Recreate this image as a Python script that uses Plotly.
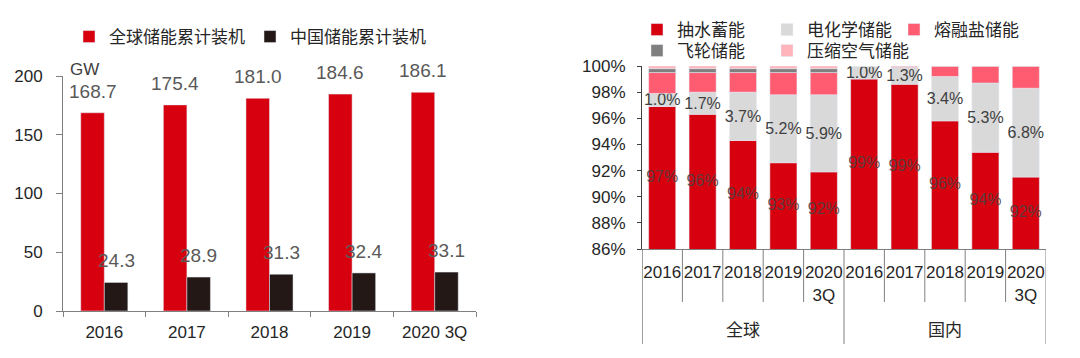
import plotly.graph_objects as go

# ---------------- data ----------------
years_left = ["2016", "2017", "2018", "2019", "2020 3Q"]
global_cum = [168.7, 175.4, 181.0, 184.6, 186.1]
china_cum = [24.3, 28.9, 31.3, 32.4, 33.1]
left_series = ["全球储能累计装机", "中国储能累计装机"]

year_ticks = ["2016", "2017", "2018", "2019", "2020<br>3Q",
              "2016", "2017", "2018", "2019", "2020<br>3Q"]
groups = ["全球", "国内"]
pumped = [96.9, 96.3, 94.3, 92.6, 91.9, 99.0, 98.6, 95.8, 93.4, 91.5]
electro = [1.0, 1.7, 3.7, 5.2, 5.9, 1.0, 1.3, 3.4, 5.3, 6.8]
molten = [1.6, 1.5, 1.5, 1.7, 1.7, 0.0, 0.1, 0.8, 1.3, 1.7]
flywheel = [0.3, 0.3, 0.3, 0.3, 0.3, 0.0, 0.0, 0.0, 0.0, 0.0]
caes = [0.2, 0.2, 0.2, 0.2, 0.2, 0.0, 0.0, 0.0, 0.0, 0.0]
pumped_labels = ["97%", "96%", "94%", "93%", "92%", "99%", "99%", "96%", "94%", "92%"]
right_series = ["抽水蓄能", "电化学储能", "熔融盐储能", "飞轮储能", "压缩空气储能"]

# ---------------- style ----------------
W, H = 1080, 358
FONT = "Liberation Sans, Arial, Noto Sans CJK SC, sans-serif"
RED = "#D7000F"
BLACK = "#231815"
LGRAY = "#D9D9D9"
PINK = "#FF5C72"
DGRAY = "#7F7F7F"
LPINK = "#FFB3BA"
AX = "#808080"
TXT = "#262626"
LBL = "#595959"


def fx(p):
    return p / W


def fy(p):
    return 1 - p / H


fig = go.Figure()

# ---- left chart: grouped bars ----
BARGAP_L = 0.43
fig.add_bar(x=years_left, y=global_cum, name=left_series[0], marker_color=RED,
            xaxis="x", yaxis="y", legend="legend")
fig.add_bar(x=years_left, y=china_cum, name=left_series[1], marker_color=BLACK,
            xaxis="x", yaxis="y", legend="legend")

off = (1 - BARGAP_L) / 4
annotations = []
for i, (g, c) in enumerate(zip(global_cum, china_cum)):
    annotations.append(dict(x=i - off, y=g, xref="x", yref="y", text=f"{g:.1f}",
                            showarrow=False, yanchor="bottom", yshift=9,
                            font=dict(size=19, color=LBL, family=FONT)))
    annotations.append(dict(x=i + off, y=c, xref="x", yref="y", text=f"{c:.1f}",
                            showarrow=False, yanchor="bottom", yshift=9,
                            font=dict(size=19, color=LBL, family=FONT)))
annotations.append(dict(x=fx(68), y=fy(70), xref="paper", yref="paper", text="GW",
                        showarrow=False, xanchor="left", yanchor="middle",
                        font=dict(size=17, color="#404040", family=FONT)))

# ---- right chart: stacked percentage bars (stacked via cumulative base) ----
idx = list(range(len(year_ticks)))
colors = [RED, LGRAY, PINK, DGRAY, LPINK]
series_vals = [pumped, electro, molten, flywheel, caes]
legend_ids = ["legend2", "legend3", "legend4", "legend5", "legend6"]
cum = [0.0] * len(idx)
for name, vals, col, lg in zip(right_series, series_vals, colors, legend_ids):
    kw = {}
    if name == "电化学储能":
        kw = dict(text=[f"{v:.1f}%" for v in vals], textposition="inside",
                  insidetextanchor="middle", constraintext="none", textangle=0,
                  insidetextfont=dict(size=16, color="#404040", family=FONT))
    fig.add_bar(x=idx, y=vals, base=list(cum), name=name, marker_color=col,
                xaxis="x2", yaxis="y2", legend=lg, offsetgroup="stack", width=0.67,
                **kw)
    cum = [a + b for a, b in zip(cum, vals)]

Y2MIN, Y2MAX = 86, 100
fig.add_scatter(x=idx, y=[(Y2MIN + v) / 2 for v in pumped], mode="text",
                text=pumped_labels,
                textfont=dict(size=16, color="rgba(80,64,64,0.9)", family=FONT),
                showlegend=False, hoverinfo="skip", xaxis="x2", yaxis="y2")

shapes = []
n = len(year_ticks)
for i in range(n + 1):
    xb = i - 0.5
    if i == 0:
        shapes.append(dict(type="line", xref="x2", yref="paper", x0=xb, x1=xb,
                           y0=fy(249), y1=fy(344), line=dict(color="#404040", width=1)))
    elif i in (5, 10):
        shapes.append(dict(type="line", xref="x2", yref="paper", x0=xb, x1=xb,
                           y0=fy(249), y1=fy(344), line=dict(color=AX, width=1)))
    else:
        shapes.append(dict(type="line", xref="x2", yref="paper", x0=xb, x1=xb,
                           y0=fy(249), y1=fy(302), line=dict(color=AX, width=1)))

for gi, g in enumerate(groups):
    annotations.append(dict(x=gi * 5 + 2, y=fy(330), xref="x2", yref="paper", text=g,
                            showarrow=False, yanchor="middle",
                            font=dict(size=17, color=TXT, family=FONT)))

legend_base = dict(orientation="h", xanchor="left", yanchor="middle",
                   font=dict(size=17, color=TXT), bgcolor="rgba(0,0,0,0)", itemwidth=30)
legend_pos = {"legend2": (637, 30), "legend3": (767, 30), "legend4": (894, 30),
              "legend5": (637, 51), "legend6": (767, 51)}

layout_legends = {lg: dict(legend_base, x=fx(px), y=fy(py))
                  for lg, (px, py) in legend_pos.items()}

fig.update_layout(
    width=W, height=H,
    margin=dict(l=0, r=0, t=0, b=0, autoexpand=False),
    paper_bgcolor="white", plot_bgcolor="white",
    font=dict(family=FONT, size=17, color=TXT),
    barmode="group", bargap=BARGAP_L, bargroupgap=0,
    xaxis=dict(domain=[fx(63), fx(476)], type="category", tickson="boundaries",
               ticks="outside", ticklen=5, tickcolor=AX, showline=True, linecolor=AX,
               showgrid=False, tickfont=dict(size=17, color=TXT), ticklabelstandoff=6,
               automargin=False),
    yaxis=dict(domain=[fy(311), fy(76)], range=[0, 200], dtick=50, ticks="outside",
               ticklen=6, tickcolor=AX, showline=True, linecolor=AX, showgrid=False,
               zeroline=False, tickfont=dict(size=17, color=TXT), ticklabelstandoff=10,
               automargin=False),
    xaxis2=dict(domain=[fx(642), fx(1046)], range=[-0.5, n - 0.5], tickvals=idx,
                ticktext=year_ticks, ticks="outside", ticklen=8,
                tickcolor="rgba(0,0,0,0)", showline=True, linecolor=AX, showgrid=False,
                zeroline=False, tickfont=dict(size=17, color=TXT), anchor="y2",
                automargin=False),
    yaxis2=dict(domain=[fy(249), fy(66)], range=[Y2MIN, Y2MAX], dtick=2, ticksuffix="%",
                ticks="outside", ticklen=4, tickcolor="#404040", showline=True,
                linecolor="#404040", showgrid=False, zeroline=False,
                tickfont=dict(size=17, color=TXT), anchor="x2", ticklabelstandoff=8,
                automargin=False),
    legend=dict(legend_base, x=fx(69), y=fy(37)),
    annotations=annotations,
    shapes=shapes,
    **layout_legends,
)
fig.write_html("out.html", config={"displayModeBar": False},
               post_script="document.body.style.margin='0';")
